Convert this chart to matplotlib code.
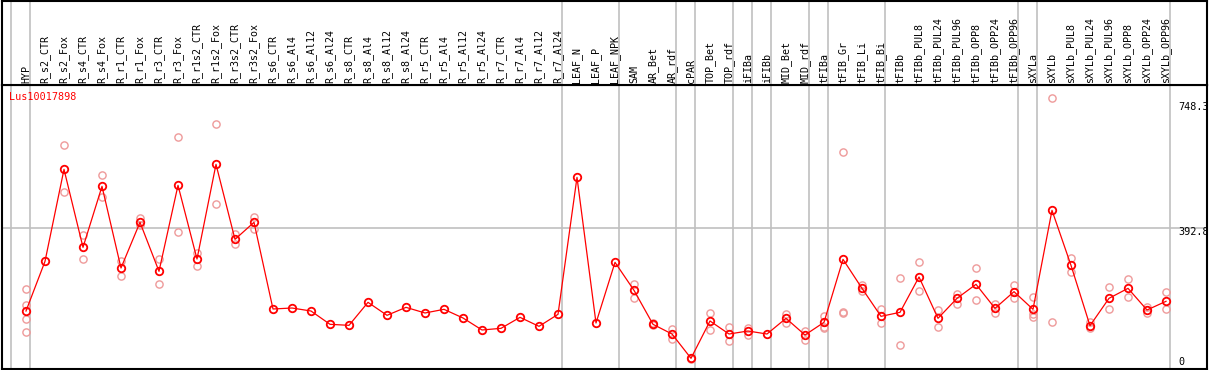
import matplotlib
matplotlib.use("Agg")
import matplotlib.pyplot as plt
import numpy as np

# sample names (x categories)
samples = ["HYP", "R_s2_CTR", "R_s2_Fox", "R_s4_CTR", "R_s4_Fox", "R_r1_CTR", "R_r1_Fox",
           "R_r3_CTR", "R_r3_Fox", "R_r1s2_CTR", "R_r1s2_Fox", "R_r3s2_CTR", "R_r3s2_Fox",
           "R_s6_CTR", "R_s6_Al4", "R_s6_Al12", "R_s6_Al24", "R_s8_CTR", "R_s8_Al4",
           "R_s8_Al12", "R_s8_Al24", "R_r5_CTR", "R_r5_Al4", "R_r5_Al12", "R_r5_Al24",
           "R_r7_CTR", "R_r7_Al4", "R_r7_Al12", "R_r7_Al24", "LEAF_N", "LEAF_P", "LEAF_NPK",
           "SAM", "AR_Bet", "AR_rdf", "cPAR", "TOP_Bet", "TOP_rdf", "iFIBa", "iFIBb",
           "MID_Bet", "MID_rdf", "tFIBa", "tFIB_Gr", "tFIB_Li", "tFIB_Bi", "tFIBb",
           "tFIBb_PUL8", "tFIBb_PUL24", "tFIBb_PUL96", "tFIBb_OPP8", "tFIBb_OPP24",
           "tFIBb_OPP96", "sXYLa", "sXYLb", "sXYLb_PUL8", "sXYLb_PUL24", "sXYLb_PUL96",
           "sXYLb_OPP8", "sXYLb_OPP24", "sXYLb_OPP96"]

# mean expression per sample
means = [166.6, 302.4, 554.0, 340.7, 507.5, 284.2, 409.1, 275.1, 510.3, 308.8, 567.7,
         362.6, 409.1, 172.1, 174.8, 166.6, 130.2, 127.4, 190.3, 154.8, 176.6, 161.2,
         171.2, 147.5, 114.7, 119.2, 149.3, 124.7, 157.5, 532.1, 133.8, 299.7, 223.1,
         130.2, 103.7, 37.2, 139.3, 103.7, 111.9, 103.7, 146.6, 101.0, 135.6, 307.9,
         228.6, 152.0, 163.0, 259.6, 146.6, 201.3, 239.6, 173.9, 219.5, 171.2, 441.9,
         291.5, 126.5, 201.3, 228.6, 169.4, 193.1]

# individual replicates
reps = [[225.9, 183.0, 143.8, 108.3], [], [619.6, 491.1], [373.5, 307.9], [537.6, 479.3],
        [303.3, 263.3], [420.0, 400.9], [309.7, 239.6], [641.5, 381.7], [326.1, 290.6],
        [677.1, 458.3], [378.1, 349.8], [424.6, 391.8], [], [], [], [], [], [], [], [],
        [], [], [], [], [], [], [], [], [], [], [],
        [240.5, 201.3], [133.0, 127.0], [116.5, 91.0], [39.0, 35.5], [160.3, 113.8],
        [122.9, 85.5], [120.1, 101.0], [], [159.3, 133.8], [112.8, 88.2],
        [153.0, 122.9, 120.1], [600.5, 163.0, 160.3], [238.6, 220.4], [171.2, 134.7],
        [255.9, 72.7], [299.7, 220.4], [169.4, 123.8], [214.0, 185.8], [283.3, 195.8],
        [186.7, 160.3], [236.8, 202.2], [204.0, 157.5, 151.1], [748.2, 135.6],
        [310.6, 274.2], [137.5, 119.2], [231.3, 171.2], [253.2, 204.0], [178.5, 160.3],
        [218.6, 171.2]]

# group separators come after these samples
groups_end = ["HYP", "R_r7_Al24", "LEAF_NPK", "AR_rdf", "cPAR", "TOP_rdf", "iFIBa",
              "iFIBb", "MID_rdf", "tFIBa", "tFIB_Bi", "tFIBb_OPP96", "sXYLa", "sXYLb_OPP96"]

gene = "Lus10017898"
vmin, vmax = min(means), 748.3
vmid = (vmin + vmax) / 2

W, H = 1209, 370
fig = plt.figure(figsize=(W / 100, H / 100), dpi=100)
xl = ((1.5 - 26) / 19, (1207 - 26) / 19)

ax = fig.add_axes([1.5 / W, 1 / H, 1205.5 / W, 284 / H])
hx = fig.add_axes([1.5 / W, 285 / H, 1205.5 / W, 84.5 / H])

x = np.arange(len(samples))

for a in (ax, hx):
	a.set_xlim(*xl)
	a.set_xticks([])
	a.set_yticks([])
	for s in a.spines.values():
		s.set_linewidth(1.5)
		s.set_color("black")
	# gray group lines
	a.axvline(-0.77, color="#c0c0c0", lw=1.2, zorder=0)
	for g in groups_end:
		a.axvline(samples.index(g) + 0.23, color="#c0c0c0", lw=1.2, zorder=0)

ax.set_ylim(8.0, 784.7)
ax.axhline(vmid, color="#c0c0c0", lw=1.2, zorder=0)

# replicates
for i, r in enumerate(reps):
	if r:
		ax.plot([i] * len(r), r, linestyle="none", marker="o", markersize=5.2,
				markerfacecolor="none", markeredgecolor="#ee9a9a", markeredgewidth=1.0,
				zorder=2)

ax.plot(x, means, color="red", lw=0.9, zorder=3)
ax.plot(x, means, linestyle="none", marker="o", markersize=5.4, markerfacecolor="none",
		markeredgecolor="red", markeredgewidth=1.3, zorder=4)

ax.text(-0.9, 751.9, gene, color="red", fontsize=7.3, family="DejaVu Sans Mono",
		ha="left", va="center")

rx = (1178 - 26) / 19
for val, lab in [(725.3, "%.1f" % vmax), (381.9, "%.1f" % vmid), (28.0, "0")]:
	ax.text(rx, val, lab, fontsize=7.3, family="DejaVu Sans Mono", ha="left", va="center")

hx.set_ylim(0, 1)
for i, s in enumerate(samples):
	hx.text(i, 0.025, s, rotation=90, ha="center", va="bottom", fontsize=7.2,
			family="DejaVu Sans Mono")

fig.savefig("out.png", dpi=100)
